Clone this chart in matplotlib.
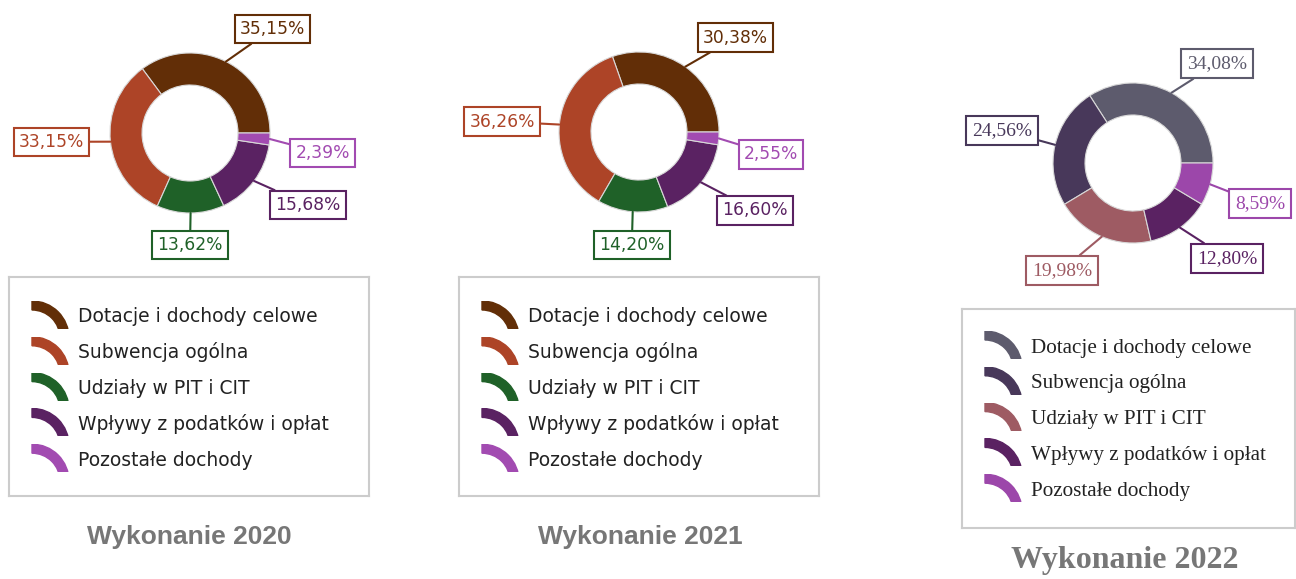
import matplotlib
matplotlib.use("Agg")
import matplotlib.pyplot as plt
from matplotlib.patches import Wedge, Rectangle
import numpy as np

# dane
kategorie = ["Dotacje i dochody celowe", "Subwencja ogólna", "Udziały w PIT i CIT",
             "Wpływy z podatków i opłat", "Pozostałe dochody"]
wyk_2020 = [35.15, 33.15, 13.62, 15.68, 2.39]
wyk_2021 = [30.38, 36.26, 14.20, 16.60, 2.55]
wyk_2022 = [34.08, 24.56, 19.98, 12.80, 8.59]
tytuly = ["Wykonanie 2020", "Wykonanie 2021", "Wykonanie 2022"]

kolory_a = ["#622e07", "#ad4427", "#1f6128", "#5a2262", "#a24bb1"]
kolory_b = ["#5d5b6d", "#48385a", "#9e5b63", "#5a2262", "#9c47aa"]

# polozenie etykiet (w promieniach od srodka)
etyk_2020 = [(1.03, 1.30), (-1.73, -0.11), (0.0, -1.40), (1.475, -0.90), (1.66, -0.25)]
etyk_2021 = [(1.21, 1.18), (-1.71, 0.13), (-0.09, -1.41), (1.45, -0.98), (1.65, -0.28)]
etyk_2022 = [(1.05, 1.24), (-1.64, 0.41), (-0.89, -1.34), (1.18, -1.19), (1.59, -0.51)]

W, H = 1296, 579
fig = plt.figure(figsize=(W / 100, H / 100), dpi=100)
fig.patch.set_facecolor("white")

def fmt(v):
    return f"{v:.2f}".replace(".", ",") + "%"

def rysuj_pierscien(cx, cy, wartosci, kolory, etykiety, font, fsize):
    # os 320x320 px, zakres +-2 => promien 80 px
    ax = fig.add_axes([(cx - 160) / W, (H - cy - 160) / H, 320 / W, 320 / H])
    wedges, _ = ax.pie(wartosci, colors=kolory, startangle=0, counterclock=True, radius=1,
                       wedgeprops=dict(width=0.4, edgecolor="#d8d8d8", linewidth=0.8))
    ax.set_xlim(-2, 2)
    ax.set_ylim(-2, 2)
    ax.set_aspect("equal")
    ax.axis("off")
    for w, v, k, pos in zip(wedges, wartosci, kolory, etykiety):
        kat = np.deg2rad((w.theta1 + w.theta2) / 2)
        ax.annotate(fmt(v), xy=(np.cos(kat), np.sin(kat)), xytext=pos,
                    ha="center", va="center", color=k, fontsize=fsize, family=font,
                    bbox=dict(boxstyle="square,pad=0.3", fc="white", ec=k, lw=1.5),
                    arrowprops=dict(arrowstyle="-", color=k, lw=1.5, shrinkA=0, shrinkB=0),
                    annotation_clip=False)

def rysuj_legende(x0, y0, x1, y1, kolory, font, fsize, pierwszy):
    w, h = x1 - x0, y1 - y0
    lax = fig.add_axes([x0 / W, (H - y1) / H, w / W, h / H])
    lax.set_xlim(0, w)
    lax.set_ylim(0, h)
    lax.set_xticks([])
    lax.set_yticks([])
    for s in lax.spines.values():
        s.set_color("#cccccc")
        s.set_linewidth(1.5)
    for i, (nazwa, k) in enumerate(zip(kategorie, kolory)):
        yc = pierwszy + i * 35.8
        gora = yc - 14          # gorna krawedz znacznika
        klin = Wedge((23, h - (gora + 37)), 37, 0, 90, width=9, color=k)
        lax.add_patch(klin)
        # przyciecie od dolu - plaska dolna krawedz
        klin.set_clip_path(Rectangle((0, h - (gora + 28)), 80, 28, transform=lax.transData))
        lax.text(69, h - (yc + 7.5), nazwa, fontsize=fsize, family=font,
                 color="#222222", va="baseline", ha="left")

sans = "DejaVu Sans"
serif = "Liberation Serif"

rysuj_pierscien(190, 133, wyk_2020, kolory_a, etyk_2020, sans, 12.3)
rysuj_pierscien(639, 132, wyk_2021, kolory_a, etyk_2021, sans, 12.3)
rysuj_pierscien(1133, 163, wyk_2022, kolory_b, etyk_2022, serif, 14)

rysuj_legende(9, 277, 369, 496, kolory_a, sans, 13.5, 38)
rysuj_legende(459, 277, 819, 496, kolory_a, sans, 13.5, 38)
rysuj_legende(962, 309, 1295, 528, kolory_b, serif, 15.2, 36)

fig.text(189 / W, 1 - 544 / H, tytuly[0], ha="center", va="baseline", fontsize=19,
         fontweight="bold", family="Liberation Sans", color="#777777")
fig.text(640 / W, 1 - 544 / H, tytuly[1], ha="center", va="baseline", fontsize=19,
         fontweight="bold", family="Liberation Sans", color="#777777")
fig.text(1125 / W, 1 - 568 / H, tytuly[2], ha="center", va="baseline", fontsize=23,
         fontweight="bold", family=serif, color="#777777")

fig.savefig("out.png", dpi=100)
